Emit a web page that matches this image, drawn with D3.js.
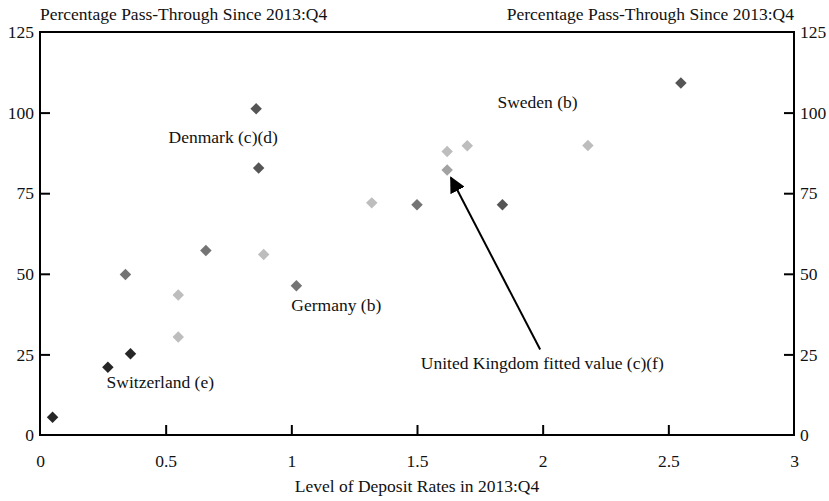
<!DOCTYPE html>
<html>
<head>
<meta charset="utf-8">
<script src="https://cdn.jsdelivr.net/npm/d3@7"></script>
<style>
  body { margin: 0; background: #fff; }
  text { font-family: "Liberation Serif", "DejaVu Serif", serif; fill: #111; }
</style>
</head>
<body>
<div id="chart"></div>
<script>
// values: [deposit rate level, pass-through %]
var switzerland = [[0.05, 5.5], [0.27, 21], [0.36, 25.2]];
var denmark = [[0.86, 101.2], [0.87, 82.8], [1.84, 71.4], [2.55, 109.2]];
var germany = [[0.34, 49.8], [0.66, 57.2], [1.02, 46.3], [1.5, 71.4]];
var sweden = [[0.55, 43.4], [0.55, 30.4], [0.89, 56], [1.32, 72], [1.62, 87.9], [1.7, 89.7], [2.18, 89.8]];
var ukFitted = [[1.62, 82.2]];

var xTicks = [0, 0.5, 1, 1.5, 2, 2.5, 3];
var yTicks = [0, 25, 50, 75, 100, 125];
var axisTitle = "Percentage Pass-Through Since 2013:Q4";
var xTitle = "Level of Deposit Rates in 2013:Q4";

// labels placed in data units
var labels = [
    {text: "Denmark (c)(d)", x: 0.729, y: 90.5, anchor: "middle"},
    {text: "Sweden (b)", x: 1.82, y: 101.5, anchor: "start"},
    {text: "Germany (b)", x: 1.0, y: 38.5, anchor: "start"},
    {text: "Switzerland (e)", x: 0.265, y: 14.5, anchor: "start"},
    {text: "United Kingdom fitted value (c)(f)", x: 1.515, y: 20.6, anchor: "start"}
];
var arrow = {x1: 1.99, y1: 26.5, x2: 1.635, y2: 79.8};

var W = 829, H = 501;
var m = {left: 40, right: 35, top: 32, bottom: 66};

var x = d3.scaleLinear().domain([0, 3]).range([m.left, W - m.right]);
var y = d3.scaleLinear().domain([0, 125]).range([H - m.bottom, m.top]);

var svg = d3.select("#chart").append("svg").attr("width", W).attr("height", H);

svg.append("defs").append("marker").attr("id", "head")
    .attr("viewBox", "0 0 10 10").attr("refX", 9).attr("refY", 5)
    .attr("markerWidth", 8).attr("markerHeight", 8).attr("orient", "auto")
    .append("path").attr("d", "M0,0 L10,5 L0,10 z").attr("fill", "#000");

// frame
svg.append("rect").attr("x", x(0)).attr("y", y(125))
    .attr("width", x(3) - x(0)).attr("height", y(0) - y(125))
    .attr("fill", "none").attr("stroke", "#000").attr("stroke-width", 2);

var fontSize = 17.5;

var yl = svg.append("g").attr("transform", "translate(" + x(0) + ",0)")
    .call(d3.axisRight(y).tickValues(yTicks).tickSize(10).tickFormat(d3.format("d")));
var yr = svg.append("g").attr("transform", "translate(" + x(3) + ",0)")
    .call(d3.axisLeft(y).tickValues(yTicks).tickSize(10).tickFormat(d3.format("d")));
var xb = svg.append("g").attr("transform", "translate(0," + y(0) + ")")
    .call(d3.axisTop(x).tickValues(xTicks).tickSize(10).tickFormat(d3.format("")));

[yl, yr, xb].forEach(function (g) {
    g.select(".domain").remove();
    g.selectAll(".tick line").attr("stroke", "#000").attr("stroke-width", 2);
    g.selectAll(".tick text").attr("font-size", fontSize).attr("font-family", null).attr("fill", "#111");
});
yl.selectAll(".tick text").attr("x", -6).attr("text-anchor", "end");
yr.selectAll(".tick text").attr("x", 6).attr("text-anchor", "start");
xb.selectAll(".tick text").attr("y", 20).attr("dy", "0.71em");
// ticks at the edges sit on the frame
yl.selectAll(".tick").filter(function (d) { return d == 0 || d == 125; }).select("line").remove();
yr.selectAll(".tick").filter(function (d) { return d == 0 || d == 125; }).select("line").remove();
xb.selectAll(".tick").filter(function (d) { return d == 0 || d == 3; }).select("line").remove();

svg.append("text").attr("x", x(0)).attr("y", 20).attr("font-size", fontSize).text(axisTitle);
svg.append("text").attr("x", x(3)).attr("y", 20).attr("font-size", fontSize)
    .attr("text-anchor", "end").text(axisTitle);
svg.append("text").attr("x", (x(0) + x(3)) / 2).attr("y", 492).attr("font-size", fontSize)
    .attr("text-anchor", "middle").text(xTitle);

// arrow to the UK fitted value
svg.append("line").attr("x1", x(arrow.x1)).attr("y1", y(arrow.y1))
    .attr("x2", x(arrow.x2)).attr("y2", y(arrow.y2))
    .attr("stroke", "#000").attr("stroke-width", 2).attr("marker-end", "url(#head)");

var series = [
    {data: sweden, color: "#bdbdbd"},
    {data: germany, color: "#747474"},
    {data: denmark, color: "#555555"},
    {data: switzerland, color: "#262626"},
    {data: ukFitted, color: "#a2a2a2"}
];
var diamond = d3.symbol().type(d3.symbolSquare).size(66);

series.forEach(function (s) {
    svg.append("g").selectAll("path").data(s.data).enter().append("path")
        .attr("d", diamond)
        .attr("transform", function (d) { return "translate(" + x(d[0]) + "," + y(d[1]) + ") rotate(45)"; })
        .attr("fill", s.color);
});

svg.append("g").selectAll("text").data(labels).enter().append("text")
    .attr("x", function (d) { return x(d.x); })
    .attr("y", function (d) { return y(d.y); })
    .attr("text-anchor", function (d) { return d.anchor; })
    .attr("font-size", fontSize)
    .text(function (d) { return d.text; });
</script>
</body>
</html>
